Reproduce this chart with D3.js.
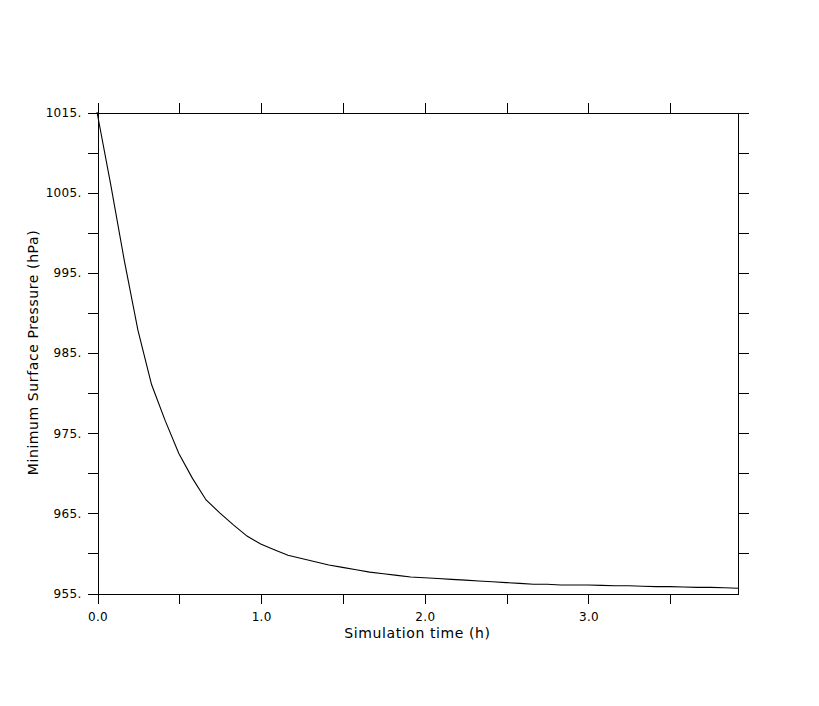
<!DOCTYPE html>
<html>
<head>
<meta charset="utf-8">
<script src="https://cdn.jsdelivr.net/npm/d3@7"></script>
<style>
  html, body { margin: 0; padding: 0; background: #fff; }
  svg { display: block; }
  text { font-family: "DejaVu Sans", sans-serif; fill: #000; }
</style>
</head>
<body>
<svg id="chart" width="819" height="706"></svg>
<script>
// Data: simulation time in minutes (every 5 min) and minimum surface pressure (hPa)
const timeMinutes = [0,5,10,15,20,25,30,35,40,45,50,55,60,65,70,75,80,85,90,95,100,105,110,115,120,125,130,135,140,145,150,155,160,165,170,175,180,185,190,195,200,205,210,215,220,225,230,235];
const pressure = [1015.0,1006.0,996.5,987.8,981.0,976.5,972.4,969.3,966.6,965.0,963.5,962.1,961.1,960.4,959.7,959.3,958.9,958.5,958.2,957.9,957.6,957.4,957.2,957.0,956.9,956.8,956.7,956.6,956.5,956.4,956.3,956.2,956.1,956.1,956.0,956.0,956.0,955.95,955.9,955.9,955.85,955.8,955.8,955.75,955.7,955.7,955.65,955.6];
const xTicks = [0,0.5,1.0,1.5,2.0,2.5,3.0,3.5];
const xTickLabels = ["0.0","","1.0","","2.0","","3.0",""];
const yTicks = [955,960,965,970,975,980,985,990,995,1000,1005,1010,1015];
const yTickLabels = ["955.","","965.","","975.","","985.","","995.","","1005.","","1015."];
const xTitle = "Simulation time (h)";
const yTitle = "Minimum Surface Pressure (hPa)";

(function () {
const svg = d3.select("#chart");
const pLeft = 97, pRight = 738, pTop = 112, pBottom = 593;
const tmax = timeMinutes[timeMinutes.length - 1] / 60;
const x = d3.scaleLinear().domain([0, tmax]).range([pLeft, pRight]);
const y = d3.scaleLinear().domain([955, 1015]).range([pBottom, pTop]);

const g = svg.append("g").attr("transform", "translate(0.5,0.5)");

function styleAxis(sel) {
  sel.selectAll("path.domain").attr("stroke", "#000").attr("stroke-width", 1).attr("shape-rendering", "crispEdges");
  sel.selectAll(".tick line").attr("stroke", "#000").attr("stroke-width", 1).attr("shape-rendering", "crispEdges");
  sel.selectAll(".tick text").style("font-family", "DejaVu Sans, sans-serif").style("font-size", "12px")
    .style("letter-spacing", "0.3px").attr("fill", "#000");
}

// Bottom axis
const gb = g.append("g").attr("transform", `translate(0,${pBottom})`)
  .call(d3.axisBottom(x).tickValues(xTicks).tickSize(10).tickSizeOuter(0).tickPadding(9)
    .tickFormat((d, i) => xTickLabels[i]));
styleAxis(gb);

// Top axis
const gt = g.append("g").attr("transform", `translate(0,${pTop})`)
  .call(d3.axisTop(x).tickValues(xTicks).tickSize(10).tickSizeOuter(0).tickFormat(""));
styleAxis(gt);

// Left axis
const gl = g.append("g").attr("transform", `translate(${pLeft},0)`)
  .call(d3.axisLeft(y).tickValues(yTicks).tickSize(10).tickSizeOuter(0).tickPadding(6)
    .tickFormat((d, i) => yTickLabels[i]));
styleAxis(gl);

// Right axis (no tick at bottom)
const gr = g.append("g").attr("transform", `translate(${pRight},0)`)
  .call(d3.axisRight(y).tickValues(yTicks.slice(1)).tickSize(10).tickSizeOuter(0).tickFormat(""));
gr.select("path.domain").remove();
gr.append("line").attr("x1", 0).attr("x2", 0).attr("y1", y(955)).attr("y2", y(1015))
  .attr("stroke", "#000").attr("shape-rendering", "crispEdges");
styleAxis(gr);

// Curve
const line = d3.line().x((d, i) => x(timeMinutes[i] / 60)).y(d => y(d));
svg.append("path")
  .datum(pressure)
  .attr("d", line)
  .attr("fill", "none")
  .attr("stroke", "#000")
  .attr("stroke-width", 1.1);

// Titles
svg.append("text")
  .attr("x", (pLeft + pRight) / 2)
  .attr("y", 638)
  .attr("text-anchor", "middle")
  .style("font-size", "14px")
  .style("letter-spacing", "0.6px")
  .text(xTitle);

svg.append("text")
  .attr("transform", `translate(38,${(pTop + pBottom) / 2}) rotate(-90)`)
  .attr("text-anchor", "middle")
  .style("font-size", "14px")
  .style("letter-spacing", "0.6px")
  .text(yTitle);
})();
</script>
</body>
</html>
